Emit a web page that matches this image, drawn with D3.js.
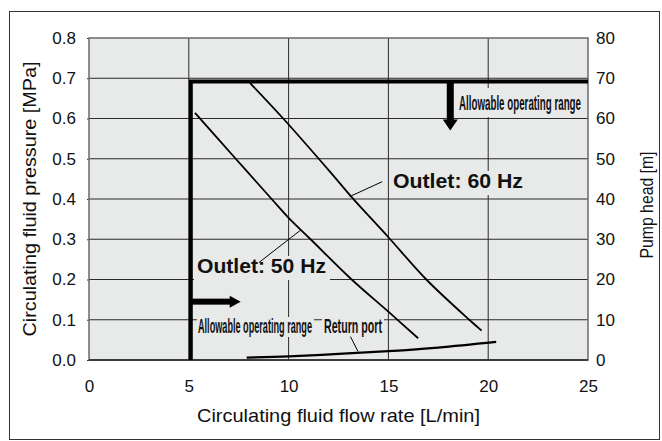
<!DOCTYPE html>
<html><head><meta charset="utf-8">
<script src="https://cdn.jsdelivr.net/npm/d3@7"></script>
<style>body{margin:0;background:#fff}svg{display:block}text{font-family:"Liberation Sans",Arial,Helvetica,sans-serif}</style>
</head><body><svg id="c" width="662" height="441"></svg>
<script>
// ---- data ----
const xTicks = [0, 5, 10, 15, 20, 25];
const yTicks = [0, 0.1, 0.2, 0.3, 0.4, 0.5, 0.6, 0.7, 0.8];
const headTicks = [0, 10, 20, 30, 40, 50, 60, 70, 80];
const outlet60 = [[8.07,0.688],[9.73,0.60],[12.07,0.468],[13.17,0.404],[15.0,0.305],[16.9,0.20],[19.05,0.10],[19.67,0.073]];
const outlet50 = [[5.31,0.614],[7.35,0.50],[9.15,0.40],[10.0,0.353],[11.1,0.30],[13.16,0.20],[15.0,0.12],[16.49,0.054]];
const returnPort = [[7.9,0.006],[10,0.009],[12.5,0.015],[15,0.022],[17.5,0.031],[20.4,0.045]];
const rangeBoundary = [[5.1,0],[5.1,0.692],[25,0.692]];
const xLabel = "Circulating fluid flow rate [L/min]";
const yLabel = "Circulating fluid pressure [MPa]";
const y2Label = "Pump head [m]";

// ---- layout ----
const svg = d3.select("#c");
const x = d3.scaleLinear().domain([0,25]).range([89,588]);
const y = d3.scaleLinear().domain([0,0.8]).range([360,38]);
const y2 = d3.scaleLinear().domain([0,80]).range([360,38]);

svg.append("rect").attr("x",9.5).attr("y",11.5).attr("width",650).attr("height",428)
  .attr("fill","#fff").attr("stroke","#333").attr("stroke-width",1);
svg.append("rect").attr("x",x(0)).attr("y",y(0.8)).attr("width",x(25)-x(0)).attr("height",y(0)-y(0.8))
  .attr("fill","#e8e9e9");

// gridlines
const g = svg.append("g");
g.selectAll(".vg").data(xTicks.filter(d=>d>0&&d<25)).join("line")
  .attr("x1",d=>x(d)).attr("x2",d=>x(d)).attr("y1",y(0)).attr("y2",y(0.8))
  .attr("stroke","#2a2a2a").attr("stroke-width",1);
g.selectAll(".hg").data(yTicks.filter(d=>d>0&&d<0.8)).join("line")
  .attr("x1",x(0)).attr("x2",x(25)).attr("y1",d=>y(d)).attr("y2",d=>y(d))
  .attr("stroke","#2a2a2a").attr("stroke-width",1);

// axes
const axL = svg.append("g").attr("transform",`translate(${x(0)},0)`)
  .call(d3.axisLeft(y).tickValues(yTicks).tickFormat(d3.format(".1f")).tickSize(2).tickPadding(11));
const axR = svg.append("g").attr("transform",`translate(${x(25)},0)`)
  .call(d3.axisRight(y2).tickValues(headTicks).tickFormat(d3.format("d")).tickSize(0).tickPadding(8));
const axB = svg.append("g").attr("transform",`translate(0,${y(0)})`)
  .call(d3.axisBottom(x).tickValues(xTicks).tickSize(0).tickPadding(20));
[axL,axR,axB].forEach(a=>{
  a.select(".domain").remove();
  a.selectAll("text").attr("font-size",17).attr("fill","#111").attr("font-family",'"Liberation Sans",Arial,sans-serif');
  a.selectAll("line").attr("stroke","#333");
});

// plot border
svg.append("rect").attr("x",x(0)).attr("y",y(0.8)).attr("width",x(25)-x(0)).attr("height",y(0)-y(0.8))
  .attr("fill","none").attr("stroke","#6a6a6a").attr("stroke-width",1.5);
svg.append("line").attr("x1",x(0)).attr("x2",x(25)).attr("y1",y(0)).attr("y2",y(0)).attr("stroke","#222").attr("stroke-width",1.5);

// label background boxes (hide grid lines)
const bg = "#e8e9e9";
function box(x0,y0,x1,y1){svg.append("rect").attr("x",x0).attr("y",y0).attr("width",x1-x0).attr("height",y1-y0).attr("fill",bg);}
box(455,88,587,117);
box(197,317,314,337);
box(322,317,384,337);
box(390,171,527,195);
box(194,256,330,280);

// curves
const line = d3.line().x(d=>x(d[0])).y(d=>y(d[1])).curve(d3.curveCatmullRom.alpha(0.5));
svg.append("path").datum(outlet60).attr("d",line).attr("fill","none").attr("stroke","#000").attr("stroke-width",1.8);
svg.append("path").datum(outlet50).attr("d",line).attr("fill","none").attr("stroke","#000").attr("stroke-width",1.8);
svg.append("path").datum(returnPort).attr("d",line).attr("fill","none").attr("stroke","#000").attr("stroke-width",2.3);
svg.append("path").datum(rangeBoundary).attr("d",d3.line().x(d=>x(d[0])).y(d=>y(d[1])))
  .attr("fill","none").attr("stroke","#000").attr("stroke-width",4).attr("stroke-linejoin","miter");

// pointer lines
function ptr(a,b){svg.append("line").attr("x1",x(a[0])).attr("y1",y(a[1])).attr("x2",x(b[0])).attr("y2",y(b[1])).attr("stroke","#000").attr("stroke-width",1);}
ptr([13.06,0.406],[14.69,0.443]);
ptr([10.61,0.323],[8.51,0.242]);
ptr([13.1,0.058],[13.48,0.021]);

// arrows
{
  const ay = y(0.145), x0 = x(5.1), xt = x(7.6), xh = xt-11;
  svg.append("rect").attr("x",x0).attr("y",ay-3).attr("width",xh-x0+1).attr("height",6).attr("fill","#000");
  svg.append("path").attr("d",`M${xh},${ay-6}L${xt},${ay}L${xh},${ay+6}Z`).attr("fill","#000");
}
{
  const ax = x(18.1), y0 = y(0.692), yt = y(0.57), yh = yt-11;
  svg.append("rect").attr("x",ax-3.5).attr("y",y0).attr("width",7).attr("height",yh-y0+1).attr("fill","#000");
  svg.append("path").attr("d",`M${ax-7.5},${yh}L${ax},${yt}L${ax+7.5},${yh}Z`).attr("fill","#000");
}

// text labels
function lab(t,xs,ys,len,fs,bold){
  svg.append("text").attr("x",xs).attr("y",ys).attr("font-size",fs).attr("font-weight",bold?"bold":"normal")
    .attr("textLength",len).attr("lengthAdjust","spacingAndGlyphs").attr("fill","#111").text(t);
}
lab("Outlet: 60 Hz",393,187.5,130,20,true);
lab("Outlet: 50 Hz",197,272.5,129,20,true);
lab("Allowable operating range",459,109.5,122,19.5,true);
lab("Allowable operating range",198,333,114,19.5,true);
lab("Return port",324,333,58,19.5,true);

// axis titles
svg.append("text").attr("x",338.5).attr("y",421.5).attr("text-anchor","middle").attr("font-size",19)
  .attr("textLength",283).attr("lengthAdjust","spacingAndGlyphs").attr("fill","#111").text(xLabel);
svg.append("text").attr("transform","translate(36,199) rotate(-90)").attr("text-anchor","middle").attr("font-size",19)
  .attr("textLength",275).attr("lengthAdjust","spacingAndGlyphs").attr("fill","#111").text(yLabel);
svg.append("text").attr("transform","translate(652.5,205) rotate(-90)").attr("text-anchor","middle").attr("font-size",19)
  .attr("textLength",107).attr("lengthAdjust","spacingAndGlyphs").attr("fill","#111").text(y2Label);
</script></body></html>
